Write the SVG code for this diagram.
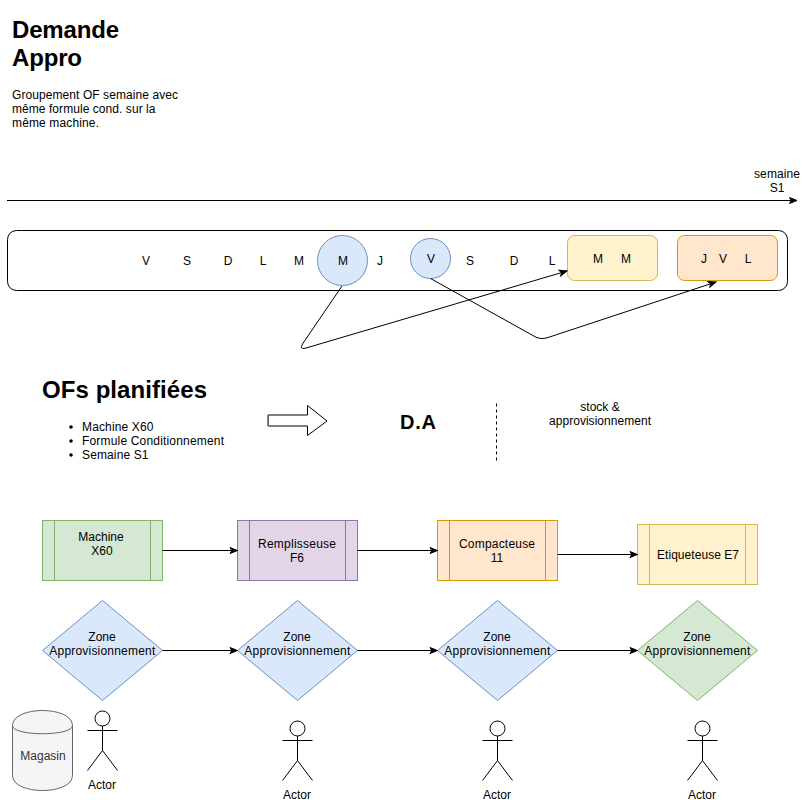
<svg xmlns="http://www.w3.org/2000/svg" width="806" height="800" viewBox="0 0 806 800">
<style>
text{font-family:"Liberation Sans",Arial,sans-serif;font-size:12px;fill:#000;text-anchor:middle}
.l{text-anchor:start}
.h{font-weight:bold;font-size:24px;text-anchor:start}
.c{fill:none;stroke:#000;stroke-width:1}
.blue{fill:#dae8fc;stroke:#6c8ebf}
.green{fill:#d5e8d4;stroke:#82b366}
.purple{fill:#e1d5e7;stroke:#9673a6}
.orange{fill:#ffe6cc;stroke:#d79b00}
.yellow{fill:#fff2cc;stroke:#d6b656}
.a{fill:none;stroke:#000}
</style>
<defs>
<marker id="arr" markerUnits="userSpaceOnUse" viewBox="0 0 10 8" refX="9" refY="4" markerWidth="10" markerHeight="8" orient="auto"><path d="M1.500 1L9 4L1.500 7L3.300 4Z" fill="#000" stroke="#000"/></marker>
<g id="actor" class="a"><circle cx="0" cy="0" r="7.5" fill="#fff"/><path d="M0 7.500V32M-15 12H15M-15 52L0 32L15 52"/></g>
</defs>
<g id="titles">
<text class="h" x="12" y="38" textLength="107">Demande</text>
<text class="h" x="12" y="66" textLength="70">Appro</text>
<text class="l" x="12" y="99" textLength="166">Groupement OF semaine avec</text>
<text class="l" x="12" y="113" textLength="143.500">même formule cond. sur la</text>
<text class="l" x="12" y="127" textLength="87">même machine.</text>
<text x="777" y="178" textLength="46">semaine</text>
<text x="777" y="192">S1</text>
<text class="h" x="42" y="398" textLength="165">OFs planifiées</text>
<circle cx="71" cy="427" r="1.800"/><circle cx="71" cy="441" r="1.800"/><circle cx="71" cy="455" r="1.800"/>
<text class="l" x="82" y="431" textLength="71.500">Machine X60</text>
<text class="l" x="82" y="445" textLength="142">Formule Conditionnement</text>
<text class="l" x="82" y="459" textLength="66.500">Semaine S1</text>
<text x="418" y="429" style="font-weight:bold;font-size:20px" textLength="36">D.A</text>
<text x="600" y="411">stock &amp;</text>
<text x="600" y="425" textLength="102">approvisionnement</text>
</g>
<g id="timeline"><rect x="7.500" y="230.500" width="780" height="60" rx="9" fill="#fff" stroke="#000"/>
<text x="146" y="265">V</text><text x="187" y="265">S</text><text x="228" y="265">D</text><text x="263" y="265">L</text><text x="299" y="265">M</text><text x="380" y="265">J</text><text x="470" y="265">S</text><text x="514" y="265">D</text><text x="552" y="265">L</text>
</g>
<g id="node-m"><circle class="blue" cx="342.500" cy="260.500" r="25"/><text x="343" y="265">M</text></g>
<g id="node-v"><circle class="blue" cx="430.500" cy="258.500" r="20"/><text x="431" y="263">V</text></g>
<g id="node-mm"><rect class="yellow" x="567.500" y="235.500" width="90" height="45" rx="7"/><text x="598" y="263">M</text><text x="626" y="263">M</text></g>
<g id="node-jvl"><rect class="orange" x="677.500" y="235.500" width="100" height="45" rx="7"/><text x="704" y="263">J</text><text x="723" y="263">V</text><text x="748" y="263">L</text></g>
<g id="arrow-shape"><path d="M268 415H307.500V405.500L327 421L307.500 435.500V426H268Z" fill="#fff" stroke="#000"/><path d="M268.500 415V426" stroke="#666"/></g>
<g id="divider"><path d="M496.500 403.500V461" fill="none" stroke="#000" stroke-dasharray="3 3"/></g>
<g id="machines">
<g id="m1"><rect class="green" x="42.500" y="520.500" width="120" height="60"/><path class="green" d="M54.500 520.500V580.500M150.500 520.500V580.500"/><text x="101" y="541">Machine</text><text x="102" y="555">X60</text></g>
<g id="m2"><rect class="purple" x="237.500" y="520.500" width="120" height="60"/><path class="purple" d="M249.500 520.500V580.500M345.500 520.500V580.500"/><text x="297" y="548" textLength="78">Remplisseuse</text><text x="297" y="562">F6</text></g>
<g id="m3"><rect class="orange" x="437.500" y="520.500" width="120" height="60"/><path class="orange" d="M449.500 520.500V580.500M545.500 520.500V580.500"/><text x="497" y="548" textLength="76">Compacteuse</text><text x="497" y="562">11</text></g>
<g id="m4"><rect class="yellow" x="637.500" y="524.500" width="120" height="60"/><path class="yellow" d="M649.500 524.500V584.500M745.500 524.500V584.500"/><text x="698" y="559" textLength="82">Etiqueteuse E7</text></g>
</g>
<g id="zones">
<g id="z1"><path class="blue" d="M102.500 600.500L162.500 650.500L102.500 700.500L42.500 650.500Z"/><text x="102" y="641">Zone</text><text x="102.300" y="655" textLength="106">Approvisionnement</text></g>
<g id="z2"><path class="blue" d="M297.500 600.500L357.500 650.500L297.500 700.500L237.500 650.500Z"/><text x="297" y="641">Zone</text><text x="297.300" y="655" textLength="106">Approvisionnement</text></g>
<g id="z3"><path class="blue" d="M497.500 600.500L557.500 650.500L497.500 700.500L437.500 650.500Z"/><text x="497" y="641">Zone</text><text x="497.300" y="655" textLength="106">Approvisionnement</text></g>
<g id="z4"><path class="green" d="M697.500 600.500L757.500 650.500L697.500 700.500L637.500 650.500Z"/><text x="697" y="641">Zone</text><text x="697.300" y="655" textLength="106">Approvisionnement</text></g>
</g>
<g id="magasin"><path d="M12.500 725.500C12.500 705.500 72.500 705.500 72.500 725.500V775.500C72.500 795.500 12.500 795.500 12.500 775.500Z" fill="#f5f5f5" stroke="#666"/><path d="M12.500 725.500C12.500 736.500 72.500 736.500 72.500 725.500" fill="none" stroke="#666"/><text x="43" y="760" style="fill:#333">Magasin</text></g>
<g id="actors">
<g id="a1"><use href="#actor" x="102.500" y="718.500"/><text x="102" y="789">Actor</text></g>
<g id="a2"><use href="#actor" x="297.500" y="728.500"/><text x="297" y="799">Actor</text></g>
<g id="a3"><use href="#actor" x="497.500" y="728.500"/><text x="497" y="799">Actor</text></g>
<g id="a4"><use href="#actor" x="702.500" y="728.500"/><text x="702" y="799">Actor</text></g>
</g>
<g id="connectors">
<path class="c" d="M7 200.500H797" marker-end="url(#arr)"/>
<path class="c" d="M342 286L302.500 344Q299.500 349.500 305 348.300L567 271" marker-end="url(#arr)"/>
<path class="c" d="M430.500 278.500L532 335Q540 340.500 548 337.500L716 282" marker-end="url(#arr)"/>
<path class="c" d="M162.500 550.500H237.500" marker-end="url(#arr)"/>
<path class="c" d="M357.500 550.500H437.500" marker-end="url(#arr)"/>
<path class="c" d="M557.500 554.500H637.500" marker-end="url(#arr)"/>
<path class="c" d="M162.500 650.500H237.500" marker-end="url(#arr)"/>
<path class="c" d="M357.500 650.500H437.500" marker-end="url(#arr)"/>
<path class="c" d="M557.500 650.500H637.500" marker-end="url(#arr)"/>
</g>
</svg>
